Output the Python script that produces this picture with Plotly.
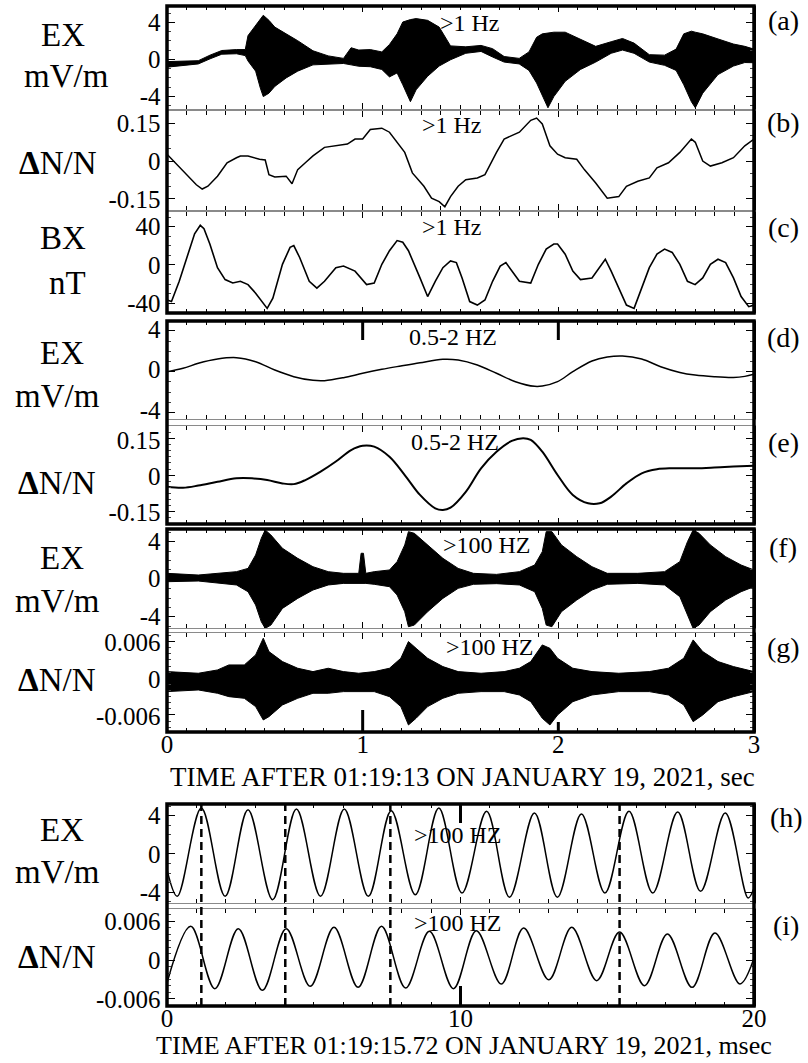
import plotly.graph_objects as go

W, H = 808, 1063
FONT = "Liberation Serif, Times New Roman, serif"


def px(x):
    return x / W


def py(y):
    return 1 - y / H


# ---------------- DATA ----------------
# (a) EX >1 Hz, mV/m : upper / lower envelope of the dense trace
t_a = [0.0, 0.06, 0.16, 0.22, 0.28, 0.355, 0.40, 0.414, 0.453, 0.477, 0.492, 0.521, 0.551, 0.609,
       0.668, 0.746, 0.824, 0.902, 0.941, 0.98, 1.039, 1.098, 1.137, 1.176, 1.205, 1.244, 1.273,
       1.332, 1.391, 1.449, 1.527, 1.605, 1.664, 1.723, 1.80, 1.85, 1.889, 1.918, 1.947, 1.977,
       2.035, 2.113, 2.191, 2.27, 2.328, 2.387, 2.465, 2.543, 2.602, 2.641, 2.68, 2.70, 2.738,
       2.816, 2.895, 2.953, 3.0]
a_hi = [-0.25, -0.2, -0.15, 0.45, 0.95, 1.05, 1.05, 2.56, 3.66, 4.40, 4.76, 4.21, 3.48, 2.75,
        2.01, 0.92, 0.37, 0.10, 1.25, 1.0, 1.05, 0.80, 1.60, 2.75, 4.03, 4.29, 4.40,
        4.21, 3.48, 1.45, 1.35, 1.50, 1.15, 0.30, 0.10, 0.80, 2.38, 2.75, 2.82, 2.93,
        2.93, 2.20, 1.40, 1.90, 2.25, 1.75, 0.50, 0.45, 1.10, 2.75, 3.04, 2.93, 2.75,
        2.20, 1.65, 1.40, 1.10]
a_lo = [-0.85, -0.7, -0.5, 0.05, 0.55, 0.6, 0.4, -0.18, -1.28, -3.11, -4.03, -3.66, -2.93, -2.01,
        -1.28, -0.6, -0.5, -0.45, -0.6, -0.75, -0.8, -1.1, -1.9, -1.47, -2.75, -4.58, -3.30,
        -1.83, -0.73, -0.05, 0.65, 0.85, 0.25, -0.3, -0.5, -1.2, -2.56, -3.85, -5.24, -4.03,
        -2.38, -1.10, -0.3, 0.65, 1.0, 0.65, -0.3, -0.65, -1.2, -2.75, -4.58, -5.24, -3.66,
        -1.65, -0.73, -0.35, -0.37]

# (b) dN/N >1 Hz
t_b = [0.0, 0.043, 0.102, 0.150, 0.180, 0.209, 0.258, 0.307, 0.355, 0.375, 0.414, 0.473, 0.502,
       0.521, 0.551, 0.609, 0.639, 0.668, 0.707, 0.746, 0.805, 0.863, 0.922, 0.961, 1.0, 1.039,
       1.098, 1.137, 1.176, 1.215, 1.254, 1.313, 1.352, 1.391, 1.42, 1.449, 1.488, 1.527, 1.586,
       1.625, 1.684, 1.723, 1.801, 1.859, 1.889, 1.918, 1.957, 1.996, 2.035, 2.094, 2.133, 2.191,
       2.25, 2.309, 2.348, 2.406, 2.465, 2.504, 2.563, 2.621, 2.68, 2.70, 2.738, 2.777, 2.836,
       2.895, 2.953, 3.0]
b_val = [0.027, -0.007, -0.054, -0.094, -0.111, -0.100, -0.060, -0.007, 0.013, 0.020, 0.020, 0.007, 0.004,
         -0.054, -0.063, -0.060, -0.090, -0.034, -0.007, 0.020, 0.054, 0.060, 0.067, 0.087, 0.087, 0.125,
         0.130, 0.114, 0.074, 0.034, -0.047, -0.100, -0.147, -0.161, -0.181, -0.141, -0.100, -0.074, -0.067,
         -0.054, 0.034, 0.087, 0.114, 0.161, 0.170, 0.147, 0.060, 0.027, 0.013, 0.007, -0.034, -0.087,
         -0.147, -0.141, -0.100, -0.080, -0.067, -0.027, -0.007, 0.034, 0.087, 0.074, 0.0, -0.020, -0.007,
         0.013, 0.060, 0.087]

# (c) BX >1 Hz, nT
t_c = [0.0, 0.023, 0.0625, 0.102, 0.141, 0.170, 0.189, 0.219, 0.258, 0.297, 0.336, 0.375, 0.414,
       0.453, 0.492, 0.512, 0.541, 0.590, 0.629, 0.648, 0.678, 0.727, 0.766, 0.805, 0.863, 0.902,
       0.961, 1.020, 1.059, 1.098, 1.137, 1.176, 1.205, 1.234, 1.293, 1.332, 1.371, 1.410, 1.449,
       1.479, 1.508, 1.547, 1.586, 1.625, 1.664, 1.703, 1.732, 1.762, 1.801, 1.859, 1.898, 1.938,
       1.977, 1.996, 2.035, 2.074, 2.113, 2.172, 2.211, 2.240, 2.270, 2.309, 2.348, 2.387, 2.426,
       2.465, 2.504, 2.543, 2.582, 2.621, 2.660, 2.699, 2.738, 2.777, 2.816, 2.855, 2.895, 2.934,
       2.973, 3.0]
c_val = [-36.5, -38.2, -17.0, 7.8, 32.6, 41.4, 37.9, 21.9, -2.8, -15.2, -18.8, -17.0, -20.5,
         -29.4, -40.0, -45.3, -34.7, 0.7, 18.4, 20.2, 7.8, -17.0, -24.1, -17.0, -2.8, -1.1,
         -6.4, -20.5, -18.8, 0.7, 14.9, 25.5, 23.7, 14.9, -13.5, -32.9, -17.0, -2.8, 4.2,
         2.5, -13.5, -38.2, -41.8, -36.5, -17.0, -1.1, 2.5, -6.4, -17.0, -18.8, 0.7, 16.6,
         21.9, 21.9, 11.3, -6.4, -15.2, -13.5, -2.8, 6.0, -6.4, -24.1, -41.8, -45.3, -24.1,
         -2.8, 11.3, 16.6, 13.1, 0.7, -17.0, -20.5, -13.5, 0.7, 6.0, 2.5, -13.5, -32.9,
         -43.5, -41.8]

# (d) EX 0.5-2 Hz, mV/m
t_d = [0.0, 0.082, 0.160, 0.258, 0.355, 0.453, 0.551, 0.648, 0.746, 0.805, 0.902, 1.0, 1.098,
       1.195, 1.293, 1.410, 1.488, 1.586, 1.684, 1.781, 1.879, 1.918, 1.996, 2.074, 2.172, 2.25,
       2.328, 2.426, 2.523, 2.621, 2.699, 2.797, 2.895, 2.953, 3.0]
d_val = [0.0, 0.33, 0.82, 1.24, 1.37, 0.98, 0.16, -0.49, -0.85, -0.88, -0.59, -0.16, 0.23,
         0.56, 0.88, 1.21, 1.14, 0.65, -0.16, -0.98, -1.44, -1.41, -0.98, 0.0, 1.05, 1.44,
         1.54, 1.24, 0.49, -0.07, -0.33, -0.49, -0.56, -0.46, -0.26]

# (e) dN/N 0.5-2 Hz
t_e = [0.0, 0.082, 0.160, 0.258, 0.355, 0.434, 0.512, 0.590, 0.648, 0.707, 0.785, 0.863, 0.941,
       1.0, 1.059, 1.137, 1.215, 1.293, 1.371, 1.410, 1.449, 1.527, 1.605, 1.684, 1.762, 1.820,
       1.859, 1.918, 1.996, 2.074, 2.152, 2.211, 2.270, 2.348, 2.426, 2.504, 2.582, 2.699, 2.797,
       2.895, 3.0]
e_val = [-0.049, -0.053, -0.044, -0.028, -0.014, -0.014, -0.021, -0.035, -0.038, -0.021, 0.014, 0.056, 0.104,
         0.122, 0.118, 0.076, 0.0, -0.083, -0.139, -0.146, -0.136, -0.070, 0.028, 0.097, 0.142, 0.153,
         0.146, 0.097, 0.0, -0.083, -0.118, -0.118, -0.090, -0.035, 0.007, 0.024, 0.028, 0.028, 0.031,
         0.035, 0.039]

# (f) EX >100 Hz, mV/m : envelope
t_f = [0.0, 0.160, 0.355, 0.414, 0.453, 0.482, 0.502, 0.531, 0.590, 0.668, 0.746, 0.824, 0.902,
       0.980, 0.992, 1.004, 1.016, 1.059, 1.137, 1.176, 1.215, 1.234, 1.264, 1.332, 1.410, 1.488,
       1.566, 1.684, 1.801, 1.879, 1.918, 1.938, 1.967, 2.016, 2.094, 2.172, 2.25, 2.406, 2.543,
       2.621, 2.660, 2.689, 2.719, 2.777, 2.855, 2.934, 3.0]
f_hi = [0.64, 0.46, 0.82, 1.17, 2.60, 4.38, 5.27, 4.73, 3.31, 2.24, 1.35, 0.82, 0.64,
        0.64, 2.78, 2.78, 0.64, 0.82, 1.0, 1.89, 3.67, 5.09, 4.91, 3.67, 2.24, 1.17,
        0.64, 0.53, 0.82, 1.53, 2.95, 5.09, 5.09, 3.67, 2.42, 1.35, 0.64, 0.64, 0.82,
        1.89, 4.02, 5.27, 4.91, 3.67, 2.42, 1.53, 1.0]
f_lo = [-0.25, -0.18, -0.60, -1.32, -2.74, -4.52, -5.23, -4.88, -3.10, -2.03, -1.14, -0.60, -0.43,
        -0.43, -0.43, -0.43, -0.43, -0.53, -0.78, -1.67, -3.45, -5.05, -4.88, -3.45, -2.03, -0.96,
        -0.53, -0.46, -0.60, -1.32, -3.10, -4.88, -5.05, -3.45, -2.21, -1.14, -0.53, -0.43, -0.60,
        -1.85, -3.81, -5.23, -4.88, -3.45, -2.21, -1.32, -0.78]

# (g) dN/N >100 Hz : envelope
t_g = [0.0, 0.160, 0.258, 0.316, 0.395, 0.453, 0.492, 0.521, 0.590, 0.668, 0.746, 0.824, 0.902,
       0.980, 1.059, 1.137, 1.195, 1.234, 1.273, 1.332, 1.410, 1.488, 1.605, 1.723, 1.801, 1.859,
       1.918, 1.957, 1.996, 2.074, 2.172, 2.309, 2.465, 2.563, 2.641, 2.689, 2.738, 2.816, 2.895,
       3.0]
g_hi = [0.00109, 0.00082, 0.00136, 0.00218, 0.00218, 0.00382, 0.00654, 0.00436, 0.00273, 0.00164,
        0.00109, 0.00164, 0.00109, 0.00082, 0.00109, 0.00164, 0.00327, 0.00600, 0.00490, 0.00327,
        0.00191, 0.00109, 0.00082, 0.00109, 0.00164, 0.00273, 0.00545, 0.00490, 0.00327, 0.00164,
        0.00109, 0.00082, 0.00109, 0.00164, 0.00327, 0.00627, 0.00436, 0.00273, 0.00191, 0.00109]
g_lo = [-0.00218, -0.00191, -0.00245, -0.00300, -0.00327, -0.00463, -0.00681, -0.00627, -0.00436,
        -0.00327, -0.00245, -0.00245, -0.00218, -0.00218, -0.00218, -0.00300, -0.00463, -0.00763,
        -0.00654, -0.00463, -0.00327, -0.00245, -0.00218, -0.00218, -0.00273, -0.00382, -0.00654,
        -0.00763, -0.00600, -0.00382, -0.00273, -0.00218, -0.00218, -0.00273, -0.00436, -0.00709,
        -0.00600, -0.00382, -0.00300, -0.00218]

# (h) EX >100 Hz zoom, msec : extrema of the wave
t_h = [0.0, 0.35, 1.17, 1.98, 2.76, 3.60, 4.41, 5.23, 6.04, 6.86, 7.64, 8.46, 9.26, 10.05, 10.89,
       11.67, 12.52, 13.30, 14.12, 14.92, 15.74, 16.55, 17.40, 18.18, 19.02, 19.80, 20.0]
h_val = [-1.64, -4.42, 4.80, -4.42, 4.63, -4.77, 4.70, -4.42, 4.70, -4.42, 4.52, -4.25, 4.80, -4.07,
         4.45, -4.52, 4.28, -4.52, 4.18, -4.07, 4.45, -4.07, 4.38, -3.90, 4.28, -4.59, -3.55]

# (i) dN/N >100 Hz zoom
t_i = [0.0, 0.81, 1.63, 2.43, 3.25, 4.06, 4.88, 5.69, 6.51, 7.31, 8.13, 8.94, 9.76, 10.54, 11.39,
       12.15, 13.01, 13.79, 14.64, 15.42, 16.27, 17.05, 17.89, 18.67, 19.52, 20.0]
i_val = [-0.00354, 0.00518, -0.00441, 0.00482, -0.00467, 0.00482, -0.00405, 0.00503, -0.00421,
         0.00518, -0.00431, 0.00441, -0.00441, 0.00451, -0.00369, 0.00492, -0.00303, 0.00503,
         -0.00318, 0.00431, -0.00395, 0.004, -0.00421, 0.00416, -0.00369, 0.0003]

dash_times_ms = [1.17, 4.03, 7.61, 15.42]
mark_times_sec = [1, 2]
mark_times_ms = [10]

ticks_E = [-4, 0, 4]
ticks_E_txt = ["-4", "0", "4"]
ticks_N1 = [-0.15, 0, 0.15]
ticks_N1_txt = ["-0.15", "0", "0.15"]
ticks_B = [-40, 0, 40]
ticks_B_txt = ["-40", "0", "40"]
ticks_N2 = [-0.006, 0, 0.006]
ticks_N2_txt = ["-0.006", "0", "0.006"]
xt_sec = [0, 1, 2, 3]
xt_sec_txt = ["0", "1", "2", "3"]
xt_ms = [0, 10, 20]
xt_ms_txt = ["0", "10", "20"]

x_title_1 = "TIME AFTER 01:19:13 ON JANUARY 19, 2021, sec"
x_title_2 = "TIME AFTER 01:19:15.72 ON JANUARY 19, 2021, msec"

# ---------------- LAYOUT CONFIG ----------------
# key, top px, bottom px, y range, tickvals, ticktext, minor dtick, time kind, label shift
panels = [
    ("a", 6, 109, [-5.37, 5.76], ticks_E, ticks_E_txt, 1, "s", 0),
    ("b", 111, 210, [-0.194, 0.198], ticks_N1, ticks_N1_txt, 0.05, "s", 0),
    ("c", 212, 313, [-50.1, 55.3], ticks_B, ticks_B_txt, 10, "s", 0),
    ("d", 321, 419, [-4.64, 4.97], ticks_E, ticks_E_txt, 1, "s", -2),
    ("e", 426, 524, [-0.204, 0.204], ticks_N1, ticks_N1_txt, 0.025, "s", 1),
    ("f", 529, 628, [-5.19, 5.37], ticks_E, ticks_E_txt, 1, "s", -1),
    ("g", 633, 732, [-0.00878, 0.0074], ticks_N2, ticks_N2_txt, 0.001, "s", 1),
    ("h", 804, 903, [-5.12, 5.22], ticks_E, ticks_E_txt, 1, "ms", 0),
    ("i", 909, 1006, [-0.00708, 0.00785], ticks_N2, ticks_N2_txt, 0.001, "ms", 0),
]
X0, X1 = 167, 754

fig = go.Figure()


def axn(n):
    return "" if n == 1 else str(n)


def add_line(t, v, n, shape="linear", width=1.5):
    fig.add_trace(go.Scatter(x=t, y=v, mode="lines", line=dict(color="black", width=width, shape=shape),
                             xaxis="x" + axn(n), yaxis="y" + axn(n), hoverinfo="skip"))


def add_env(t, hi, lo, n):
    fig.add_trace(go.Scatter(x=t, y=hi, mode="lines", line=dict(color="black", width=1),
                             xaxis="x" + axn(n), yaxis="y" + axn(n), hoverinfo="skip"))
    fig.add_trace(go.Scatter(x=t, y=lo, mode="lines", line=dict(color="black", width=1),
                             fill="tonexty", fillcolor="black",
                             xaxis="x" + axn(n), yaxis="y" + axn(n), hoverinfo="skip"))


add_env(t_a, a_hi, a_lo, 1)
add_line(t_b, b_val, 2, width=1.5)
add_line(t_c, c_val, 3, width=1.6)
add_line(t_d, d_val, 4, shape="spline", width=1.5)
add_line(t_e, e_val, 5, shape="spline", width=2)
add_env(t_f, f_hi, f_lo, 6)
add_env(t_g, g_hi, g_lo, 7)
add_line(t_h, h_val, 8, shape="spline", width=1.5)
add_line(t_i, i_val, 9, shape="spline", width=1.5)

layout = dict(width=W, height=H, margin=dict(l=0, r=0, t=0, b=0),
              paper_bgcolor="white", plot_bgcolor="white", showlegend=False,
              font=dict(family=FONT, color="black"))

for n, (key, top, bot, yr, tv, tt, mdt, kind, shift) in enumerate(panels, 1):
    a = axn(n)
    show_x = key in ("g", "i")
    if kind == "s":
        xr, xtv, xtt, xminor = [0, 3], xt_sec, xt_sec_txt, 0.1
    else:
        xr, xtv, xtt, xminor = [0, 20], xt_ms, xt_ms_txt, 1
    layout["xaxis" + a] = dict(
        domain=[px(X0), px(X1)], anchor="y" + a, range=xr, showgrid=False, zeroline=False,
        showline=True, linecolor="#8a8a8a", linewidth=1, mirror="ticks",
        ticks="inside", ticklen=6, tickwidth=1, tickcolor="black",
        tickvals=xtv, ticktext=xtt, showticklabels=show_x,
        tickfont=dict(family=FONT, size=25, color="black"), ticklabelstandoff=-10,
        minor=dict(ticks="inside", ticklen=4, tickwidth=1, tickcolor="black", dtick=xminor, tick0=0,
                   showgrid=False),
        automargin=False, fixedrange=True)
    layout["yaxis" + a] = dict(
        domain=[py(bot), py(top)], anchor="x" + a, range=yr, showgrid=False, zeroline=False,
        showline=True, linecolor="black", linewidth=1.5, mirror="ticks",
        ticks="inside", ticklen=8, tickwidth=1, tickcolor="black",
        tickvals=tv, ticktext=tt,
        tickfont=dict(family=FONT, size=25, color="black"), ticklabelstandoff=0,
        ticklabelshift=shift,
        minor=dict(ticks="inside", ticklen=4, tickwidth=1, tickcolor="#444", dtick=mdt, tick0=0,
                   showgrid=False),
        automargin=False, fixedrange=True)

shapes = []
# thick group frames
for top, bot in [(6, 313), (321, 524), (529, 732), (804, 1006)]:
    shapes.append(dict(type="rect", xref="paper", yref="paper", x0=px(X0), x1=px(X1),
                       y0=py(bot), y1=py(top), line=dict(color="black", width=3.5)))
# dashed lines through (h) and (i)
for tm in dash_times_ms:
    shapes.append(dict(type="line", xref="x8", yref="paper", x0=tm, x1=tm, y0=py(1006), y1=py(804),
                       line=dict(color="black", width=2.5, dash="8px,5px")))
# heavy marks at whole seconds / 10 msec
for tm in mark_times_sec:
    shapes.append(dict(type="line", xref="x4", yref="paper", x0=tm, x1=tm, y0=py(340), y1=py(321),
                       line=dict(color="black", width=3)))
for tm, ln in zip(mark_times_sec, [22, 10]):
    shapes.append(dict(type="line", xref="x7", yref="paper", x0=tm, x1=tm, y0=py(732), y1=py(732 - ln),
                       line=dict(color="black", width=3)))
for tm in mark_times_ms:
    shapes.append(dict(type="line", xref="x8", yref="paper", x0=tm, x1=tm, y0=py(823), y1=py(804),
                       line=dict(color="black", width=3)))
    shapes.append(dict(type="line", xref="x9", yref="paper", x0=tm, x1=tm, y0=py(1006), y1=py(986),
                       line=dict(color="black", width=3)))
layout["shapes"] = shapes

ann = []


def text(x, y, s, size, xanchor="center", yanchor="middle"):
    ann.append(dict(x=px(x), y=py(y), xref="paper", yref="paper", text=s, showarrow=False,
                    xanchor=xanchor, yanchor=yanchor, font=dict(family=FONT, size=size, color="black")))


DN = "<b>Δ</b>N/N"
# y-axis titles
for x, y, s in [(63, 35, "EX"), (66, 76, "mV/m"), (58, 163, DN), (63, 238, "BX"), (67, 283, "nT"),
                (62, 353, "EX"), (58, 396, "mV/m"), (57, 483, DN),
                (62, 558, "EX"), (58, 601, "mV/m"), (57, 680, DN),
                (62, 830, "EX"), (58, 872, "mV/m"), (57, 957, DN)]:
    text(x, y, s, 33)
# panel letters
for x, y, s in [(783, 20, "(a)"), (783, 123, "(b)"), (783, 227, "(c)"), (783, 337, "(d)"),
                (783, 442, "(e)"), (783, 547, "(f)"), (783, 647, "(g)"), (786, 817, "(h)"),
                (786, 925, "(i)")]:
    text(x, y, s, 28)
# filter labels
for x, y, s in [(470, 23, ">1 Hz"), (452, 125, ">1 Hz"), (452, 227, ">1 Hz"),
                (453, 337, "0.5-2 HZ"), (455, 442, "0.5-2 HZ"), (487, 545, ">100 HZ"),
                (490, 647, ">100 HZ"), (458, 835, ">100 HZ"), (458, 923, ">100 HZ")]:
    text(x, y, s, 24)
# x-axis titles
text(463, 777, x_title_1, 27)
text(464, 1062, x_title_2, 26, yanchor="bottom")
layout["annotations"] = ann

fig.update_layout(**layout)
fig.write_html("out.html", config={"displayModeBar": False, "staticPlot": True},
               post_script="document.body.style.margin='0';document.body.style.padding='0';")
